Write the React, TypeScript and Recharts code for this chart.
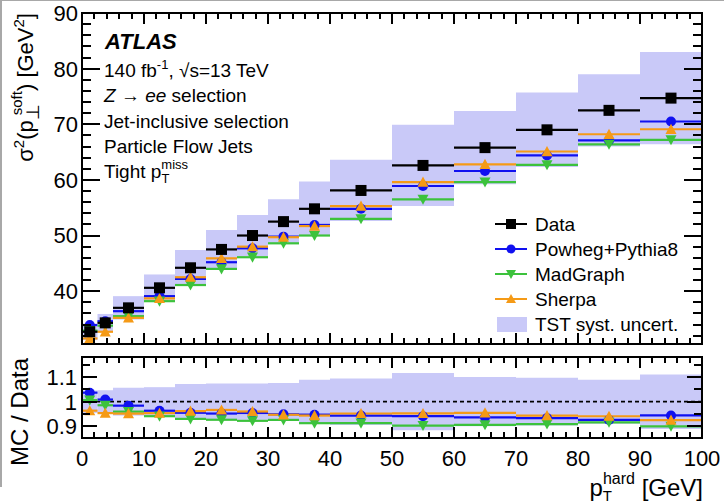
import React from 'react';
import {
  ScatterChart,
  Scatter,
  XAxis,
  YAxis,
  ErrorBar,
  ReferenceArea,
  ReferenceLine,
} from 'recharts';

// Bin edges in p_T^hard [GeV]
const binLow = [0, 2.5, 5, 10, 15, 20, 25, 30, 35, 40, 50, 60, 70, 80, 90];
const binHigh = [2.5, 5, 10, 15, 20, 25, 30, 35, 40, 50, 60, 70, 80, 90, 100];

// sigma^2(p_perp^soft) [GeV^2] per bin
const dataValues = [32.7, 34.3, 37.0, 40.6, 44.2, 47.5, 50.0, 52.5, 54.8, 58.1, 62.6, 65.8, 69.0, 72.5, 74.7];
const powhegValues = [33.9, 34.6, 36.4, 39.1, 42.2, 45.2, 47.7, 49.8, 51.9, 54.8, 58.9, 61.6, 64.4, 67.1, 70.5];
const madgraphValues = [32.9, 33.8, 35.5, 38.2, 41.1, 44.0, 46.1, 48.6, 50.0, 53.0, 56.5, 59.6, 62.7, 66.4, 67.2];
const sherpaValues = [31.5, 32.7, 35.2, 38.7, 42.5, 45.9, 48.0, 49.7, 51.7, 55.3, 59.6, 62.8, 65.1, 68.2, 69.1];
// TST systematic uncertainty on data (absolute, GeV^2)
const tstSyst = [1.5, 1.6, 2.1, 2.4, 3.2, 3.5, 3.7, 4.0, 4.9, 5.5, 7.3, 6.6, 6.7, 6.5, 8.3];

// Axis ticks
const xMajorTicks = [0, 10, 20, 30, 40, 50, 60, 70, 80, 90, 100];
const xTickLabels = ['0', '10', '20', '30', '40', '50', '60', '70', '80', '90', '100'];
const mainYMajorTicks = [40, 50, 60, 70, 80, 90];
const mainYTickLabels = ['40', '50', '60', '70', '80', '90'];
const ratioYMajorTicks = [0.9, 1, 1.1];
const ratioYTickLabels = ['0.9', '1', '1.1'];
const ratioYMinorTicks = [0.95, 1.05, 1.15];

const MAIN_Y_DOMAIN: [number, number] = [30.5, 90];
const RATIO_Y_DOMAIN: [number, number] = [0.852, 1.182];
const X_DOMAIN: [number, number] = [0, 100];

const COLORS = {
  data: '#000000',
  powheg: '#1010f0',
  madgraph: '#3cc23c',
  sherpa: '#f59a16',
  band: '#c9c9f8',
};

const FONT = '"Liberation Sans", Arial, Helvetica, sans-serif';

// Minor ticks between the majors
const withMinors = (majors: number[], step: number, sub: number) => {
  const out: number[] = [];
  majors.forEach((m, i) => {
    out.push(m);
    if (i < majors.length - 1) {
      for (let k = 1; k < sub; k++) out.push(+(m + k * step).toFixed(4));
    }
  });
  return out;
};
const xAllTicks = withMinors(xMajorTicks, 2, 5);
const mainYAllTicks = [32, 34, 36, 38, ...withMinors(mainYMajorTicks, 2, 5)];
const ratioYAllTicks = [...ratioYMajorTicks, ...ratioYMinorTicks].sort((a, b) => a - b);

// Chart geometry
const W = 724;
const H = 503;
const PLOT_LEFT = 82;
const PLOT_RIGHT = 702;
const PLOT_W = PLOT_RIGHT - PLOT_LEFT;
const MAIN_H = 345;
const MAIN_TOP = 13;
const MAIN_BOTTOM = 344;
const RATIO_OFFSET = 345;
const RATIO_H = 158;
const RATIO_TOP = 12;
const RATIO_BOTTOM = 93;

type Row = { x: number; y: number; xerr: number };

const rows = (vals: number[]): Row[] =>
  binLow.map((lo, i) => ({ x: (lo + binHigh[i]) / 2, y: vals[i], xerr: (binHigh[i] - lo) / 2 }));

const ratioRows = (vals: number[]): Row[] =>
  binLow.map((lo, i) => ({
    x: (lo + binHigh[i]) / 2,
    y: vals[i] / dataValues[i],
    xerr: (binHigh[i] - lo) / 2,
  }));

const isMajor = (v: number, majors: number[]) => majors.some((m) => Math.abs(m - v) < 1e-6);

// Marker shapes
const squareShape = (color: string, s: number) => (p: any) =>
  p.cx == null ? <g /> : <rect x={p.cx - s / 2} y={p.cy - s / 2} width={s} height={s} fill={color} />;
const circleShape = (color: string, r: number) => (p: any) =>
  p.cx == null ? <g /> : <circle cx={p.cx} cy={p.cy} r={r} fill={color} />;
const triUpShape = (color: string, s: number) => (p: any) =>
  p.cx == null ? (
    <g />
  ) : (
    <polygon
      points={`${p.cx - s / 2},${p.cy + s * 0.42} ${p.cx + s / 2},${p.cy + s * 0.42} ${p.cx},${p.cy - s * 0.5}`}
      fill={color}
    />
  );
const triDownShape = (color: string, s: number) => (p: any) =>
  p.cx == null ? (
    <g />
  ) : (
    <polygon
      points={`${p.cx - s / 2},${p.cy - s * 0.42} ${p.cx + s / 2},${p.cy - s * 0.42} ${p.cx},${p.cy + s * 0.5}`}
      fill={color}
    />
  );

// Tick labels
const makeYLabel = (majors: number[], labels: string[], labelX: number) => (props: any) => {
  const { y, payload } = props;
  const idx = majors.findIndex((m) => Math.abs(m - payload.value) < 1e-6);
  if (idx < 0) return <g />;
  return (
    <text x={labelX} y={y} dy="0.36em" textAnchor="end" fontSize={22} fontFamily={FONT} fill="#000">
      {labels[idx]}
    </text>
  );
};
const makeXLabel = (labelY: number | null) => (props: any) => {
  const { x, payload } = props;
  const idx = xMajorTicks.findIndex((m) => Math.abs(m - payload.value) < 1e-6);
  if (idx < 0 || labelY == null) return <g />;
  return (
    <text x={x} y={labelY} textAnchor="middle" fontSize={22} fontFamily={FONT} fill="#000">
      {xTickLabels[idx]}
    </text>
  );
};

const MainYLabel = makeYLabel(mainYMajorTicks, mainYTickLabels, 78);
const RatioYLabel = makeYLabel(ratioYMajorTicks, ratioYTickLabels, 77);
const MainXLabel = makeXLabel(null);
const RatioXLabel = makeXLabel(121);

// Linear axis mappings (same as the chart's own number scales)
const xToPx = (v: number) => PLOT_LEFT + ((v - X_DOMAIN[0]) / (X_DOMAIN[1] - X_DOMAIN[0])) * PLOT_W;
const yToPx = (v: number, dom: [number, number], top: number, bottom: number) =>
  top + ((dom[1] - v) / (dom[1] - dom[0])) * (bottom - top);

type TickBox = { x: number; y: number; w: number; h: number };

// Inward tick marks on all four sides of a panel frame
const tickBoxes = (
  dom: [number, number],
  top: number,
  bottom: number,
  yTicks: number[],
  yMajors: number[],
  yMajorPx: number,
  yMinorPx: number,
  xMajorPx: number,
  xMinorPx: number
): TickBox[] => {
  const t = 2;
  const out: TickBox[] = [];
  yTicks.forEach((v) => {
    const y = Math.round(yToPx(v, dom, top, bottom));
    const len = isMajor(v, yMajors) ? yMajorPx : yMinorPx;
    out.push({ x: PLOT_LEFT, y: y - t / 2, w: len, h: t });
    out.push({ x: PLOT_RIGHT - len, y: y - t / 2, w: len, h: t });
  });
  xAllTicks.forEach((v) => {
    const x = Math.round(xToPx(v));
    const len = isMajor(v, xMajorTicks) ? xMajorPx : xMinorPx;
    out.push({ x: x - t / 2, y: bottom - len, w: t, h: len });
    out.push({ x: x - t / 2, y: top, w: t, h: len });
  });
  return out;
};

const series = [
  { key: 'powheg', vals: powhegValues, color: COLORS.powheg, shape: circleShape(COLORS.powheg, 5) },
  { key: 'madgraph', vals: madgraphValues, color: COLORS.madgraph, shape: triDownShape(COLORS.madgraph, 11) },
  { key: 'sherpa', vals: sherpaValues, color: COLORS.sherpa, shape: triUpShape(COLORS.sherpa, 11) },
];

const MainPanel = () => (
  <ScatterChart width={W} height={MAIN_H} margin={{ top: MAIN_TOP, right: W - PLOT_RIGHT, bottom: 0, left: 0 }}>
    <XAxis
      type="number"
      dataKey="x"
      domain={X_DOMAIN}
      allowDataOverflow
      ticks={xAllTicks}
      interval={0}
      height={1}
      axisLine={false}
      tickLine={false}
      tick={MainXLabel}
    />
    <YAxis
      type="number"
      dataKey="y"
      domain={MAIN_Y_DOMAIN}
      allowDataOverflow
      ticks={mainYAllTicks}
      interval={0}
      width={PLOT_LEFT}
      axisLine={false}
      tickLine={false}
      tick={MainYLabel}
    />
    {binLow.map((lo, i) => (
      <ReferenceArea
        key={`band-${i}`}
        x1={lo}
        x2={binHigh[i]}
        y1={dataValues[i] - tstSyst[i]}
        y2={dataValues[i] + tstSyst[i]}
        fill={COLORS.band}
        fillOpacity={1}
        stroke="none"
        ifOverflow="hidden"
      />
    ))}
    {series.map((s) => (
      <Scatter key={s.key} data={rows(s.vals)} shape={s.shape} isAnimationActive={false}>
        <ErrorBar dataKey="xerr" direction="x" width={0} stroke={s.color} strokeWidth={2.2} />
      </Scatter>
    ))}
    <Scatter data={rows(dataValues)} shape={squareShape(COLORS.data, 11)} isAnimationActive={false}>
      <ErrorBar dataKey="xerr" direction="x" width={0} stroke={COLORS.data} strokeWidth={2.2} />
    </Scatter>
  </ScatterChart>
);

const RatioPanel = () => (
  <ScatterChart width={W} height={RATIO_H} margin={{ top: RATIO_TOP, right: W - PLOT_RIGHT, bottom: 0, left: 0 }}>
    <XAxis
      type="number"
      dataKey="x"
      domain={X_DOMAIN}
      allowDataOverflow
      ticks={xAllTicks}
      interval={0}
      height={RATIO_H - RATIO_BOTTOM}
      axisLine={false}
      tickLine={false}
      tick={RatioXLabel}
    />
    <YAxis
      type="number"
      dataKey="y"
      domain={RATIO_Y_DOMAIN}
      allowDataOverflow
      ticks={ratioYAllTicks}
      interval={0}
      width={PLOT_LEFT}
      axisLine={false}
      tickLine={false}
      tick={RatioYLabel}
    />
    {binLow.map((lo, i) => (
      <ReferenceArea
        key={`rband-${i}`}
        x1={lo}
        x2={binHigh[i]}
        y1={1 - tstSyst[i] / dataValues[i]}
        y2={1 + tstSyst[i] / dataValues[i]}
        fill={COLORS.band}
        fillOpacity={1}
        stroke="none"
        ifOverflow="hidden"
      />
    ))}
    <ReferenceLine y={1} stroke="#000" strokeWidth={1.6} strokeDasharray="4 3" />
    {series.map((s) => (
      <Scatter key={s.key} data={ratioRows(s.vals)} shape={s.shape} isAnimationActive={false}>
        <ErrorBar dataKey="xerr" direction="x" width={0} stroke={s.color} strokeWidth={2.2} />
      </Scatter>
    ))}
  </ScatterChart>
);

const legendRows = [
  { label: 'Data', color: COLORS.data, kind: 'square', y: 224 },
  { label: 'Powheg+Pythia8', color: COLORS.powheg, kind: 'circle', y: 249 },
  { label: 'MadGraph', color: COLORS.madgraph, kind: 'down', y: 274 },
  { label: 'Sherpa', color: COLORS.sherpa, kind: 'up', y: 299 },
];

const LegendMarker = ({ kind, color, cx, cy }: { kind: string; color: string; cx: number; cy: number }) => {
  if (kind === 'square') return <rect x={cx - 5} y={cy - 5} width={10} height={10} fill={color} />;
  if (kind === 'circle') return <circle cx={cx} cy={cy} r={4.5} fill={color} />;
  if (kind === 'down')
    return <polygon points={`${cx - 5},${cy - 4} ${cx + 5},${cy - 4} ${cx},${cy + 5}`} fill={color} />;
  return <polygon points={`${cx - 5},${cy + 4} ${cx + 5},${cy + 4} ${cx},${cy - 5}`} fill={color} />;
};

const allTickBoxes = [
  ...tickBoxes(MAIN_Y_DOMAIN, MAIN_TOP, MAIN_BOTTOM, mainYAllTicks, mainYMajorTicks, 18, 9, 11, 6),
  ...tickBoxes(
    RATIO_Y_DOMAIN,
    RATIO_OFFSET + RATIO_TOP,
    RATIO_OFFSET + RATIO_BOTTOM,
    ratioYAllTicks,
    ratioYMajorTicks,
    15,
    8,
    11,
    6
  ),
];

const Overlay = () => (
  <svg
    width={W}
    height={H}
    viewBox={`0 0 ${W} ${H}`}
    style={{ position: 'absolute', left: 0, top: 0, pointerEvents: 'none', zIndex: 10 }}
    fontFamily={FONT}
  >
    {/* Page edge */}
    <rect x={0} y={0} width={W} height={1} fill="#a8a8a8" />
    <rect x={0} y={0} width={2} height={487} fill="#a8a8a8" />

    {/* Panel frames */}
    <rect
      x={PLOT_LEFT}
      y={MAIN_TOP}
      width={PLOT_W}
      height={MAIN_BOTTOM - MAIN_TOP}
      fill="none"
      stroke="#000"
      strokeWidth={2}
    />
    <rect
      x={PLOT_LEFT}
      y={RATIO_OFFSET + RATIO_TOP}
      width={PLOT_W}
      height={RATIO_BOTTOM - RATIO_TOP}
      fill="none"
      stroke="#000"
      strokeWidth={2}
    />
    {/* Inward ticks */}
    <g fill="#000">
      {allTickBoxes.map((b, i) => (
        <rect key={`tk${i}`} x={b.x} y={b.y} width={b.w} height={b.h} />
      ))}
    </g>

    {/* Experiment label and selection info */}
    <text x={105} y={49} fontSize={22} fontWeight="bold" fontStyle="italic">
      ATLAS
    </text>
    <text x={104} y={77} fontSize={19}>
      140 fb
      <tspan dy={-8} fontSize={13}>
        -1
      </tspan>
      <tspan dy={8}>, √s=13 TeV</tspan>
    </text>
    <text x={104} y={102} fontSize={19}>
      <tspan fontStyle="italic">Z</tspan>
      <tspan> → </tspan>
      <tspan fontStyle="italic">ee</tspan>
      <tspan> selection</tspan>
    </text>
    <text x={104} y={128} fontSize={19}>
      Jet-inclusive selection
    </text>
    <text x={104} y={153} fontSize={19}>
      Particle Flow Jets
    </text>
    <text x={104} y={178} fontSize={19}>
      Tight p
      <tspan dy={5} fontSize={13}>
        T
      </tspan>
      <tspan dx={-8} dy={-14} fontSize={13}>
        miss
      </tspan>
    </text>

    {/* Legend */}
    {legendRows.map((r) => (
      <g key={r.label}>
        <line x1={495} x2={527} y1={r.y} y2={r.y} stroke={r.color} strokeWidth={2} />
        <LegendMarker kind={r.kind} color={r.color} cx={511} cy={r.y} />
        <text x={535} y={r.y + 7} fontSize={19}>
          {r.label}
        </text>
      </g>
    ))}
    <rect x={497} y={317} width={30} height={15} fill={COLORS.band} />
    <text x={535} y={331} fontSize={19}>
      TST syst. uncert.
    </text>

    {/* Axis titles */}
    <text transform="translate(33,13) rotate(-90)" textAnchor="end" fontSize={22}>
      σ
      <tspan dy={-9} fontSize={15}>
        2
      </tspan>
      <tspan dy={9}>(p</tspan>
      <tspan dy={6} fontSize={18}>
        ⊥
      </tspan>
      <tspan dx={-11} dy={-17} fontSize={15}>
        soft
      </tspan>
      <tspan dy={11}>) [GeV</tspan>
      <tspan dy={-9} fontSize={15}>
        2
      </tspan>
      <tspan dy={9}>]</tspan>
    </text>
    <text transform="translate(28,358) rotate(-90)" textAnchor="end" fontSize={24}>
      MC / Data
    </text>
    <text x={703} y={496} textAnchor="end" fontSize={24}>
      p
      <tspan dy={5} fontSize={15}>
        T
      </tspan>
      <tspan dx={-9} dy={-17} fontSize={16}>
        hard
      </tspan>
      <tspan dy={12}> [GeV]</tspan>
    </text>
  </svg>
);

export default function App() {
  return (
    <div style={{ position: 'absolute', left: 0, top: 0, width: W, height: H, background: '#fff', fontFamily: FONT }}>
      <div style={{ position: 'absolute', left: 0, top: 0 }}>
        <MainPanel />
      </div>
      <div style={{ position: 'absolute', left: 0, top: RATIO_OFFSET }}>
        <RatioPanel />
      </div>
      <Overlay />
    </div>
  );
}
